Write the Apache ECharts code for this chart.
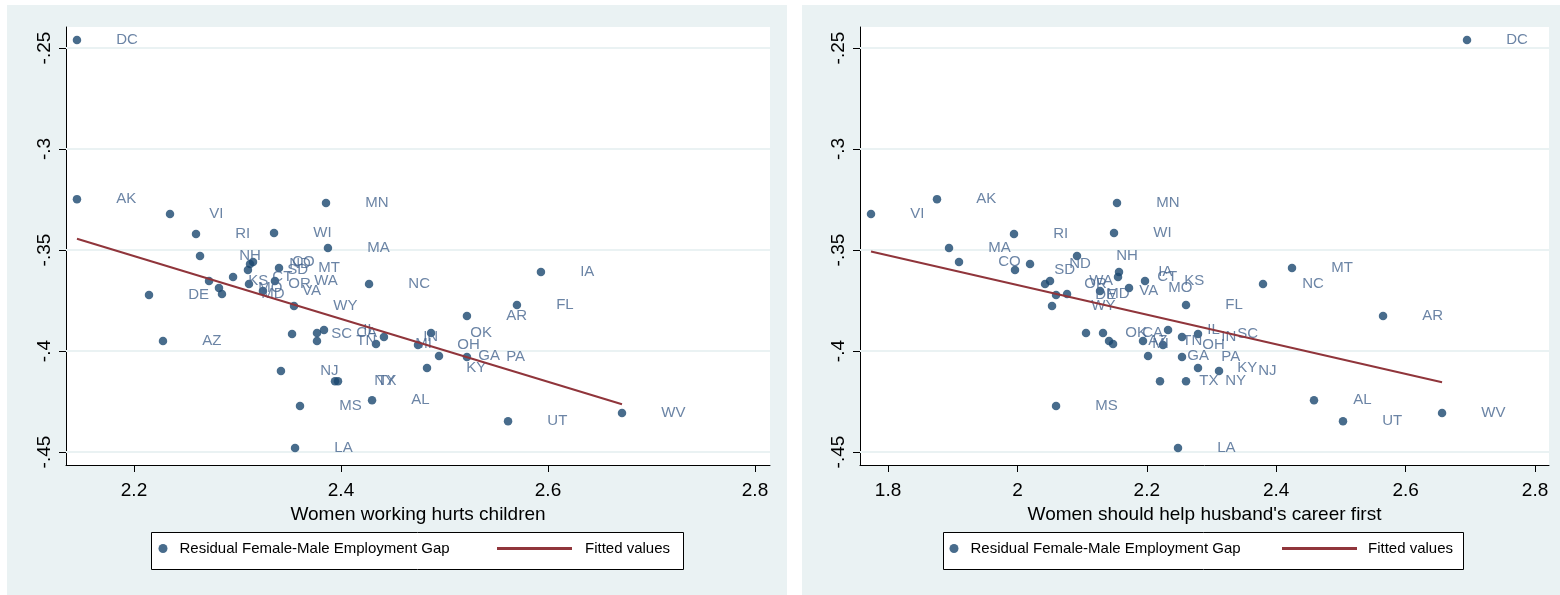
<!DOCTYPE html>
<html><head><meta charset="utf-8">
<script src="https://cdn.jsdelivr.net/npm/echarts@6/dist/echarts.min.js"></script>
<style>html,body{margin:0;padding:0;background:#fff}#c{width:1560px;height:595px}</style>
</head><body><div id="c"></div>
<script>
const states = ['DC','AK','VI','MN','RI','WI','MA','NH','CO','ND','SD','MT','IA','CT','KS','WA','OR','NC','MO','VA','MD','DE','FL','WY','AR','IL','CA','OK','SC','IN','TN','AZ','MI','OH','GA','PA','KY','NJ','NY','TX','AL','MS','WV','UT','LA'];
const gapY = [-0.2460,-0.3248,-0.3322,-0.3267,-0.3421,-0.3416,-0.3490,-0.3530,-0.3559,-0.3569,-0.3599,-0.3589,-0.3609,-0.3634,-0.3653,-0.3653,-0.3668,-0.3668,-0.3688,-0.3703,-0.3718,-0.3723,-0.3772,-0.3777,-0.3827,-0.3896,-0.3911,-0.3911,-0.3916,-0.3931,-0.3950,-0.3950,-0.3965,-0.3970,-0.4025,-0.4030,-0.4084,-0.4099,-0.4149,-0.4149,-0.4243,-0.4272,-0.4307,-0.4347,-0.4480];
const hurtsChildrenX = [2.1449,2.1449,2.2348,2.3855,2.2599,2.3353,2.3874,2.2638,2.3150,2.3121,2.3101,2.3401,2.5932,2.2957,2.2725,2.3362,2.3111,2.4271,2.2821,2.3246,2.2850,2.2145,2.5700,2.3546,2.5217,2.3836,2.3768,2.4870,2.3527,2.4415,2.3768,2.2280,2.4338,2.4744,2.4947,2.5217,2.4831,2.3420,2.3942,2.3971,2.4300,2.3604,2.6715,2.5614,2.3556];
const helpHusbandX = [2.6949,1.8757,1.7737,2.1539,1.9947,2.1493,1.8943,2.0921,1.9097,2.0195,1.9963,2.4244,2.1570,2.1555,2.1972,2.0504,2.0427,2.3796,2.1725,2.1277,2.0767,2.0597,2.2606,2.0535,2.5651,2.2328,2.1323,2.1060,2.2791,2.2544,2.1941,2.1416,2.1478,2.2250,2.2019,2.2544,2.2791,2.3116,2.2606,2.2204,2.4584,2.0597,2.6563,2.5032,2.2482];
const fitLeftX = [2.1449, 2.6715];
const fitLeftY = [-0.3444, -0.4263];
const fitRightX = [1.7737, 2.6563];
const fitRightY = [-0.3507, -0.4154];
const xTicksLeft = [2.2, 2.4, 2.6, 2.8];
const xTicksRight = [1.8, 2.0, 2.2, 2.4, 2.6, 2.8];
const yTicks = [-0.25, -0.30, -0.35, -0.40, -0.45];
const yTickLabels = ['-.25', '-.3', '-.35', '-.4', '-.45'];
const xTitleLeft = 'Women working hurts children';
const xTitleRight = "Women should help husband's career first";
const scatterName = 'Residual Female-Male Employment Gap';
const fitName = 'Fitted values';

const FONT = "'Liberation Sans', Arial, sans-serif";
const NAVY = '#1A476F', MAROON = '#90353B', BG = '#EAF2F3';

function xAxisCfg(grid, min, max, ticks, title) {
  return {
    type: 'value', gridIndex: grid, min: min, max: max,
    axisLine: {show: true, lineStyle: {color: '#000', width: 1}},
    axisTick: {show: true, customValues: ticks, length: 7, lineStyle: {color: '#000'}},
    axisLabel: {customValues: ticks, formatter: v => String(+v.toFixed(1)), fontSize: 19, color: '#000', fontFamily: FONT, margin: 16},
    splitLine: {show: false},
    name: title, nameLocation: 'middle', nameGap: 33,
    nameTextStyle: {fontSize: 19, color: '#000', fontFamily: FONT}
  };
}
function yAxisCfg(grid) {
  return {
    type: 'value', gridIndex: grid, min: -0.4564, max: -0.2396,
    axisLine: {show: true, lineStyle: {color: '#000', width: 1}},
    axisTick: {show: true, customValues: yTicks, length: 7, lineStyle: {color: '#000'}},
    axisLabel: {customValues: yTicks, rotate: 90, fontSize: 19, color: '#000', fontFamily: FONT, margin: 12,
      formatter: v => { const i = yTicks.findIndex(t => Math.abs(t - v) < 1e-6); return i >= 0 ? yTickLabels[i] : ''; }},
    splitLine: {show: false}
  };
}
function scatterSeries(idx, xs) {
  return {
    name: scatterName, type: 'scatter', xAxisIndex: idx, yAxisIndex: idx, z: 3,
    symbol: 'circle', symbolSize: 8.5,
    itemStyle: {color: NAVY},
    label: {show: true, position: 'right', distance: 35, formatter: '{b}', fontSize: 15, color: '#46658F', fontFamily: FONT},
    labelLayout: {hideOverlap: false},
    data: states.map((s, i) => ({name: s, value: [xs[i], gapY[i]]}))
  };
}
function fitSeries(idx, xs, ys) {
  return {
    name: fitName, type: 'line', xAxisIndex: idx, yAxisIndex: idx, z: 4,
    symbol: 'none', lineStyle: {color: MAROON, width: 2}, itemStyle: {color: MAROON},
    data: xs.map((x, i) => [x, ys[i]])
  };
}
function gridLineSeries(idx) {
  return {
    name: 'grid' + idx, type: 'scatter', xAxisIndex: idx, yAxisIndex: idx, z: 1, data: [],
    markLine: {z: 1, silent: true, symbol: 'none', label: {show: false}, animation: false,
      lineStyle: {color: BG, width: 2, type: 'solid'},
      data: yTicks.map(v => ({yAxis: v}))}
  };
}
function legendPair(dotLeft, lineLeft, textPadDot, textPadLine) {
  return [
    {data: [scatterName], left: dotLeft, top: 541, padding: 0, icon: 'circle', itemWidth: 9, itemHeight: 9,
      textStyle: {fontSize: 15, color: '#000', fontFamily: FONT, padding: [0, 0, 0, textPadDot]}, selectedMode: false},
    {data: [fitName], left: lineLeft, top: 541, padding: 0, icon: 'rect', itemWidth: 75, itemHeight: 3,
      textStyle: {fontSize: 15, color: '#000', fontFamily: FONT, padding: [0, 0, 0, textPadLine]}, selectedMode: false}
  ];
}

const chart = echarts.init(document.getElementById('c'), null, {renderer: 'canvas'});
chart.setOption({
  animation: false,
  backgroundColor: '#fff',
  textStyle: {fontFamily: FONT},
  graphic: {elements: [
    {type: 'rect', z: -100, shape: {x: 7, y: 5, width: 780, height: 590}, style: {fill: BG}, silent: true},
    {type: 'rect', z: -100, shape: {x: 802, y: 5, width: 758, height: 590}, style: {fill: BG}, silent: true},
    {type: 'rect', z: 1, shape: {x: 151.5, y: 532.5, width: 532, height: 37}, style: {fill: '#fff', stroke: '#000', lineWidth: 1}, silent: true},
    {type: 'rect', z: 1, shape: {x: 943.5, y: 532.5, width: 520, height: 37}, style: {fill: '#fff', stroke: '#000', lineWidth: 1}, silent: true}
  ]},
  grid: [
    {left: 66, top: 27, width: 704, height: 438, show: true, backgroundColor: '#fff', borderWidth: 0},
    {left: 860, top: 27, width: 689, height: 438, show: true, backgroundColor: '#fff', borderWidth: 0}
  ],
  xAxis: [xAxisCfg(0, 2.1343, 2.8145, xTicksLeft, xTitleLeft), xAxisCfg(1, 1.7567, 2.8216, xTicksRight, xTitleRight)],
  yAxis: [yAxisCfg(0), yAxisCfg(1)],
  legend: legendPair(158.5, 497, 7, 8).concat(legendPair(949.5, 1282, 7, 6)),
  series: [gridLineSeries(0), gridLineSeries(1),
    scatterSeries(0, hurtsChildrenX), scatterSeries(1, helpHusbandX),
    fitSeries(0, fitLeftX, fitLeftY), fitSeries(1, fitRightX, fitRightY)]
});
</script></body></html>
